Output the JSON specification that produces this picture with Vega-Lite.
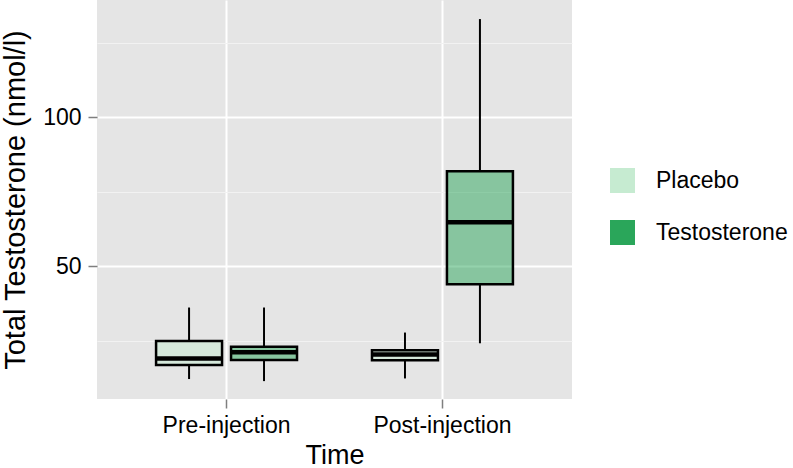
{
  "$schema": "https://vega.github.io/schema/vega-lite/v6.json",
  "width": 475,
  "height": 399,
  "autosize": "none",
  "padding": {"left": 97, "top": 0, "right": 221, "bottom": 69},
  "background": "white",
  "config": {"font": "Liberation Sans", "view": {"fill": "#e5e5e5", "stroke": null}},
  "data": {"values": [
    {"Time": "Pre-injection", "Group": "Placebo", "min": 12.1, "q1": 16.8, "median": 19.0, "q3": 24.9, "max": 36.1},
    {"Time": "Pre-injection", "Group": "Testosterone", "min": 11.4, "q1": 18.5, "median": 21.1, "q3": 22.9, "max": 36.1},
    {"Time": "Post-injection", "Group": "Placebo", "min": 12.3, "q1": 18.4, "median": 20.3, "q3": 21.8, "max": 27.7},
    {"Time": "Post-injection", "Group": "Testosterone", "min": 24.1, "q1": 43.9, "median": 64.7, "q3": 81.8, "max": 132.9}
  ]},
  "encoding": {
    "x": {"field": "Time", "type": "nominal", "sort": ["Pre-injection", "Post-injection"],
      "scale": {"paddingInner": 0, "paddingOuter": 0.1},
      "axis": {"title": "Time", "titleFontSize": 27, "titleFontWeight": "normal", "titleColor": "black", "titlePadding": 5,
        "labelFontSize": 23, "labelColor": "black", "labelAngle": 0, "labelPadding": 6, "domain": false,
        "tickSize": 9, "tickColor": "#7f7f7f", "tickWidth": 1.5, "grid": true, "gridColor": "white", "gridWidth": 2, "gridOpacity": 1, "bandPosition": 0.5}},
    "xOffset": {"field": "Group", "type": "nominal", "sort": ["Placebo", "Testosterone"],
      "scale": {"paddingInner": 0.12, "paddingOuter": 0.5}}
  },
  "layer": [
    {
      "mark": {"type": "rule", "color": "black", "strokeWidth": 2},
      "encoding": {
        "y": {"field": "min", "type": "quantitative",
          "scale": {"domain": [5.4, 139.3], "nice": false, "zero": false},
          "axis": {"values": [25, 50, 75, 100, 125],
            "labelExpr": "datum.value % 50 === 0 ? datum.label : ''",
            "tickSize": 9,
            "tickWidth": 1.5,
            "tickColor": {"condition": {"test": "datum.value % 50 === 0", "value": "#7f7f7f"}, "value": "transparent"},
            "gridColor": {"condition": {"test": "datum.value % 50 === 0", "value": "white"}, "value": "#f2f2f2"},
            "gridWidth": {"condition": {"test": "datum.value % 50 === 0", "value": 2}, "value": 1},
            "gridOpacity": 1, "domain": false,
            "labelFontSize": 23, "labelColor": "black", "labelPadding": 7,
            "title": "Total Testosterone (nmol/l)", "titleFontSize": 29, "titleFontWeight": "normal", "titleColor": "black", "titlePadding": 12}},
        "y2": {"field": "q1"}
      }
    },
    {
      "mark": {"type": "rule", "color": "black", "strokeWidth": 2},
      "encoding": {
        "y": {"field": "q3", "type": "quantitative"},
        "y2": {"field": "max"}
      }
    },
    {
      "mark": {"type": "bar", "stroke": "black", "strokeWidth": 2.5, "fillOpacity": 0.5},
      "encoding": {
        "y": {"field": "q1", "type": "quantitative"},
        "y2": {"field": "q3"},
        "fill": {"field": "Group", "type": "nominal",
          "scale": {"domain": ["Placebo", "Testosterone"], "range": ["#c6ebd1", "#2aa65a"]},
          "legend": {"title": null, "orient": "none", "legendX": 513, "legendY": 168, "symbolType": "square", "symbolSize": 625,
            "symbolOpacity": 1, "symbolFillOpacity": 1, "symbolStrokeWidth": 0, "labelFontSize": 23, "labelColor": "black", "labelOffset": 21, "rowPadding": 27, "padding": 0}}
      }
    },
    {
      "mark": {"type": "tick", "color": "black", "opacity": 1, "thickness": 4.5, "size": 66},
      "encoding": {"y": {"field": "median", "type": "quantitative"}}
    }
  ]
}
